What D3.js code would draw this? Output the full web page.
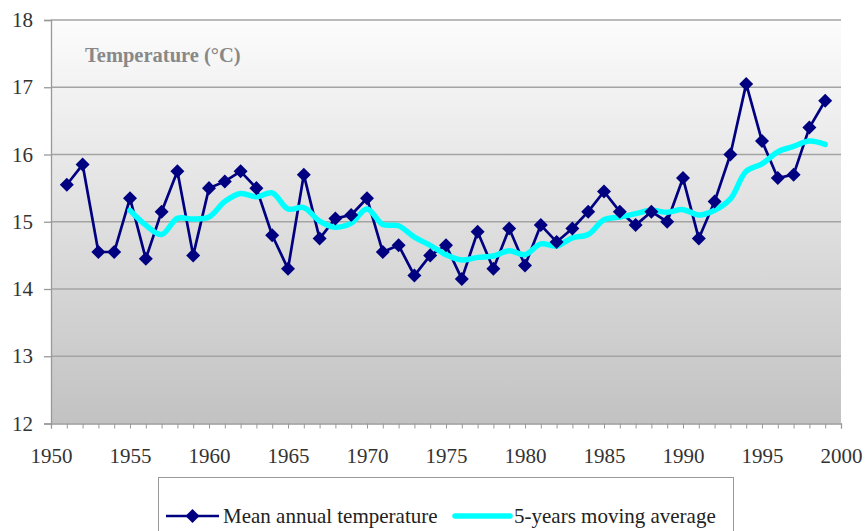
<!DOCTYPE html>
<html>
<head>
<meta charset="utf-8">
<script src="https://cdn.jsdelivr.net/npm/d3@7"></script>
<style>
  html, body { margin: 0; padding: 0; background: #ffffff; }
  svg { display: block; }
  svg text { font-family: "Liberation Serif", "Times New Roman", serif; }
</style>
</head>
<body>
<svg id="chart" width="865" height="531"></svg>
<script>
// Mean annual temperature, 1951–1999
const years = d3.range(1951, 2000);
const meanTemp = [
  15.55, 15.85, 14.55, 14.55, 15.35, 14.45, 15.15, 15.75, 14.50, 15.50,
  15.60, 15.75, 15.50, 14.80, 14.30, 15.70, 14.75, 15.05, 15.10, 15.35,
  14.55, 14.65, 14.20, 14.50, 14.65, 14.15, 14.85, 14.30, 14.90, 14.35,
  14.95, 14.70, 14.90, 15.15, 15.45, 15.15, 14.95, 15.15, 15.00, 15.65,
  14.75, 15.30, 16.00, 17.05, 16.20, 15.65, 15.70, 16.40, 16.80
];

// 5-year moving average, 1955–1999
const avgYears = d3.range(1955, 2000);
const movingAvg = [
  15.17, 14.95, 14.81, 15.05, 15.04, 15.07, 15.30, 15.42, 15.37, 15.43,
  15.19, 15.21, 15.01, 14.92, 14.98, 15.19, 14.96, 14.94, 14.77, 14.65,
  14.51, 14.43, 14.47, 14.49, 14.57, 14.51, 14.67, 14.64, 14.76, 14.81,
  15.03, 15.07, 15.12, 15.17, 15.14, 15.18, 15.10, 15.17, 15.34, 15.75,
  15.86, 16.04, 16.12, 16.20, 16.15
];

const xTicks = d3.range(1950, 2001, 5);
const yTicks = [12, 13, 14, 15, 16, 17, 18];

const titleText = "Temperature (°C)";
const seriesNames = ["Mean annual temperature", "5-years moving average"];

const plotLeft = 51, plotRight = 841, plotTop = 20, plotBottom = 423.5;
const svg = d3.select("#chart");

const x = d3.scaleLinear().domain([1950, 2000]).range([plotLeft, plotRight]);
const y = d3.scaleLinear().domain([12, 18]).range([plotBottom, plotTop]);

const font = '"Liberation Serif", "Times New Roman", serif';

// plot background gradient
const defs = svg.append("defs");
const grad = defs.append("linearGradient")
  .attr("id", "bg").attr("x1", 0).attr("y1", 0).attr("x2", 0).attr("y2", 1);
grad.append("stop").attr("offset", "0%").attr("stop-color", "#fcfcfc");
grad.append("stop").attr("offset", "100%").attr("stop-color", "#c2c2c2");

svg.append("rect")
  .attr("x", plotLeft).attr("y", plotTop)
  .attr("width", plotRight - plotLeft).attr("height", plotBottom - plotTop)
  .attr("fill", "url(#bg)");

// horizontal gridlines
svg.append("g")
  .selectAll("line")
  .data(yTicks.filter(d => d > 12))
  .join("line")
  .attr("x1", plotLeft).attr("x2", plotRight)
  .attr("y1", d => y(d)).attr("y2", d => y(d))
  .attr("stroke", "#a4a4a4").attr("stroke-width", 1.3);

// y axis
const yAxis = svg.append("g")
  .attr("transform", `translate(${plotLeft},0)`)
  .call(d3.axisLeft(y).tickValues(yTicks).tickSize(7).tickPadding(11).tickFormat(d3.format("d")));
yAxis.attr("font-family", null).attr("font-size", null);
yAxis.select(".domain").attr("stroke", "#999999").attr("stroke-width", 1.3);
yAxis.selectAll(".tick line").attr("stroke", "#999999").attr("stroke-width", 1.3);
yAxis.selectAll(".tick text")
  .style("font-family", font).style("font-size", "21px").attr("fill", "#333333");

// x axis: a tick for every year, labels every five years
const xAxis = svg.append("g")
  .attr("transform", `translate(0,${plotBottom})`)
  .call(d3.axisBottom(x).tickValues(d3.range(1950, 2001)).tickSize(5).tickPadding(0)
    .tickFormat(d => xTicks.includes(d) ? String(d) : ""));
xAxis.attr("font-family", null).attr("font-size", null);
xAxis.select(".domain").attr("stroke", "#999999").attr("stroke-width", 1.3);
xAxis.selectAll(".tick line").attr("stroke", "#999999").attr("stroke-width", 1);
xAxis.selectAll(".tick text")
  .style("font-family", font).style("font-size", "21px").attr("fill", "#333333")
  .attr("y", 33).attr("dy", "0.32em");

// chart label inside the plot
svg.append("text")
  .attr("x", 85).attr("y", 62)
  .style("font-family", font).style("font-size", "20.5px").style("font-weight", "bold")
  .attr("fill", "#888888")
  .text(titleText);

// annual series line
const tempLine = d3.line().x((d, i) => x(years[i])).y(d => y(d));
svg.append("path")
  .datum(meanTemp)
  .attr("d", tempLine)
  .attr("fill", "none").attr("stroke", "#000080").attr("stroke-width", 2.7)
  .attr("stroke-linejoin", "round");

// moving average, smoothed
const avgLine = d3.line().x((d, i) => x(avgYears[i])).y(d => y(d))
  .curve(d3.curveCatmullRom.alpha(0.5));
svg.append("path")
  .datum(movingAvg)
  .attr("d", avgLine)
  .attr("fill", "none").attr("stroke", "#00ffff").attr("stroke-width", 5.5)
  .attr("stroke-linecap", "round").attr("stroke-linejoin", "round");

// diamond markers
const diamond = d3.symbol().type(d3.symbolDiamond2).size(125);
svg.append("g")
  .selectAll("path")
  .data(meanTemp)
  .join("path")
  .attr("transform", (d, i) => `translate(${x(years[i])},${y(d)})`)
  .attr("d", diamond)
  .attr("fill", "#000080");

// legend
const legend = svg.append("g");
legend.append("rect")
  .attr("x", 158.5).attr("y", 477.5).attr("width", 575).attr("height", 60)
  .attr("fill", "#ffffff").attr("stroke", "#999999").attr("stroke-width", 1);

const ly = 516;
legend.append("line")
  .attr("x1", 166).attr("x2", 219).attr("y1", ly).attr("y2", ly)
  .attr("stroke", "#000080").attr("stroke-width", 2.7);
legend.append("path")
  .attr("transform", `translate(192.5,${ly})`)
  .attr("d", diamond).attr("fill", "#000080");
legend.append("text")
  .attr("x", 223).attr("y", ly).attr("dy", "0.33em")
  .style("font-family", font).style("font-size", "21px").attr("fill", "#222222")
  .text(seriesNames[0]);

legend.append("line")
  .attr("x1", 455).attr("x2", 510).attr("y1", ly).attr("y2", ly)
  .attr("stroke", "#00ffff").attr("stroke-width", 5.5).attr("stroke-linecap", "round");
legend.append("text")
  .attr("x", 514).attr("y", ly).attr("dy", "0.33em")
  .style("font-family", font).style("font-size", "21px").attr("fill", "#222222")
  .text(seriesNames[1]);
</script>
</body>
</html>
